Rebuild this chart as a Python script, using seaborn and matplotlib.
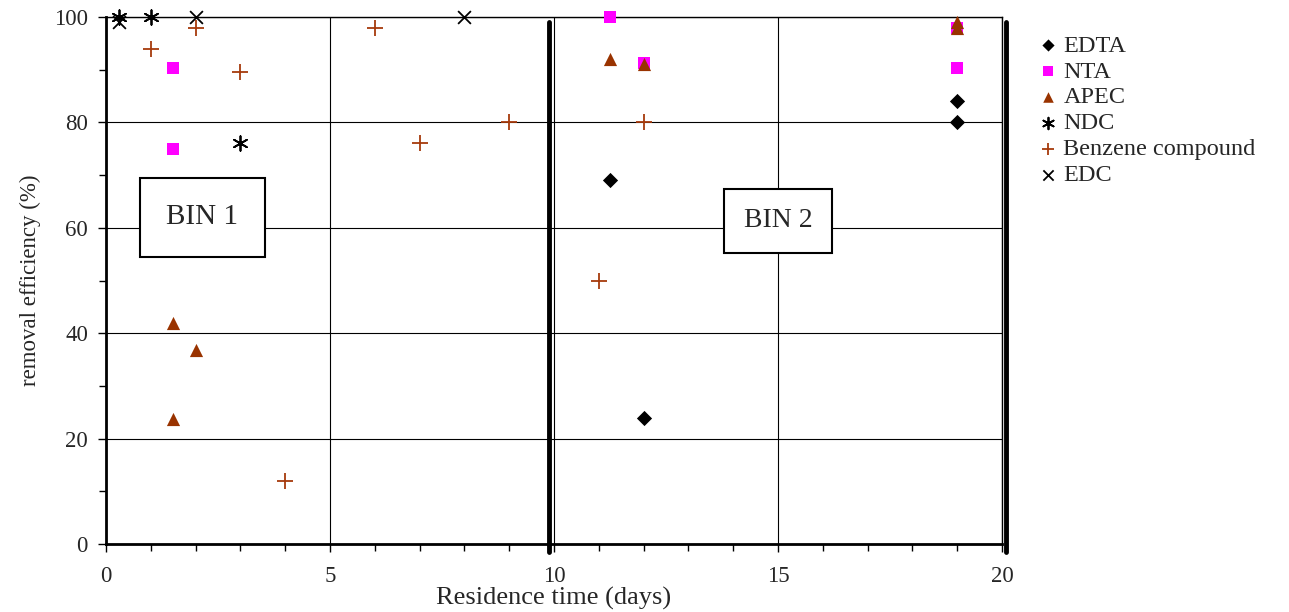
import matplotlib
matplotlib.use("Agg")
import matplotlib.pyplot as plt
import seaborn as sns
import pandas as pd

# Removal efficiency (%) versus residence time (days) for each compound group
edta_x = [11.25, 12, 19, 19]
edta_y = [69, 24, 84, 80]

nta_x = [1.5, 1.5, 11.25, 12, 19, 19]
nta_y = [90.3, 75, 100, 91.3, 98, 90.3]

apec_x = [1.5, 2, 1.5, 11.25, 12, 19, 19]
apec_y = [41.9, 36.8, 23.7, 92, 91, 99, 98]

ndc_x = [0.3, 1, 3]
ndc_y = [100, 100, 76]

benz_x = [1, 2, 3, 4, 6, 7, 9, 11, 12]
benz_y = [94, 98, 89.5, 12, 98, 76, 80, 50, 80]

edc_x = [0.3, 2, 8]
edc_y = [99, 100, 100]

series = [
    ("EDTA", edta_x, edta_y, "D", "black", 60),
    ("NTA", nta_x, nta_y, "s", "#FF00FF", 75),
    ("APEC", apec_x, apec_y, "^", "#993300", 90),
    ("NDC", ndc_x, ndc_y, (6, 2, 0), "black", 110),
    ("Benzene compound", benz_x, benz_y, "+", "#A63A0C", 120),
    ("EDC", edc_x, edc_y, "x", "black", 85),
]

sns.set_theme(style="white")
plt.rcParams["font.family"] = ["Liberation Serif", "DejaVu Serif"]

fig = plt.figure(figsize=(12.89, 6.12), dpi=100)
ax = fig.add_axes([0.0822, 0.1111, 0.6951, 0.8611])

for name, xs, ys, mk, col, size in series:
    df = pd.DataFrame({"t": xs, "eff": ys})
    filled = mk in ("D", "s", "^")
    kw = dict(edgecolor=col, linewidth=0) if filled else dict(linewidth=1.3)
    sns.scatterplot(data=df, x="t", y="eff", ax=ax, marker=mk, color=col,
                    s=size, label=name, clip_on=False, zorder=5, **kw)

ax.set_xlim(0, 20)
ax.set_ylim(0, 100)
ax.set_xticks([0, 5, 10, 15, 20])
ax.set_xticks(range(0, 21), minor=True)
ax.set_yticks([0, 20, 40, 60, 80, 100])
ax.set_yticks([10, 30, 50, 70, 90], minor=True)
ax.grid(True, which="major", color="black", linewidth=0.8)
ax.tick_params(axis="both", which="both", direction="out", color="black",
               labelsize=16.5, bottom=True, left=True)
ax.tick_params(axis="both", which="major", length=6, width=1)
ax.tick_params(axis="both", which="minor", length=5, width=1)
ax.tick_params(axis="x", pad=10)
ax.tick_params(axis="y", pad=7)
for side, sp in ax.spines.items():
    sp.set_color("black")
    sp.set_linewidth(1.0)
ax.spines["left"].set_linewidth(2.0)
ax.spines["bottom"].set_linewidth(2.0)

ax.set_xlabel("Residence time (days)", fontsize=19, labelpad=0)
ax.set_ylabel("removal efficiency (%)", fontsize=16.5, labelpad=9)

# Bin dividers
for xv in (9.9, 20.1):
    ax.axvline(xv, ymin=-0.015, ymax=0.99, color="black", linewidth=3.5,
               clip_on=False, zorder=6)

ax.text(2.15, 62, "BIN 1", fontsize=21, ha="center", va="center", zorder=4,
        bbox=dict(boxstyle="square,pad=0.9", facecolor="white",
                  edgecolor="black", linewidth=1.5))
ax.text(15.0, 61.3, "BIN 2", fontsize=20, ha="center", va="center", zorder=4,
        bbox=dict(boxstyle="square,pad=0.7", facecolor="white",
                  edgecolor="black", linewidth=1.5))

ax.legend(loc="upper left", bbox_to_anchor=(1.028, 0.985), frameon=False,
          fontsize=17.5, handletextpad=0.2, labelspacing=0.16, borderaxespad=0,
          handlelength=0.9, markerscale=0.8)

fig.savefig("out.png", dpi=100)
